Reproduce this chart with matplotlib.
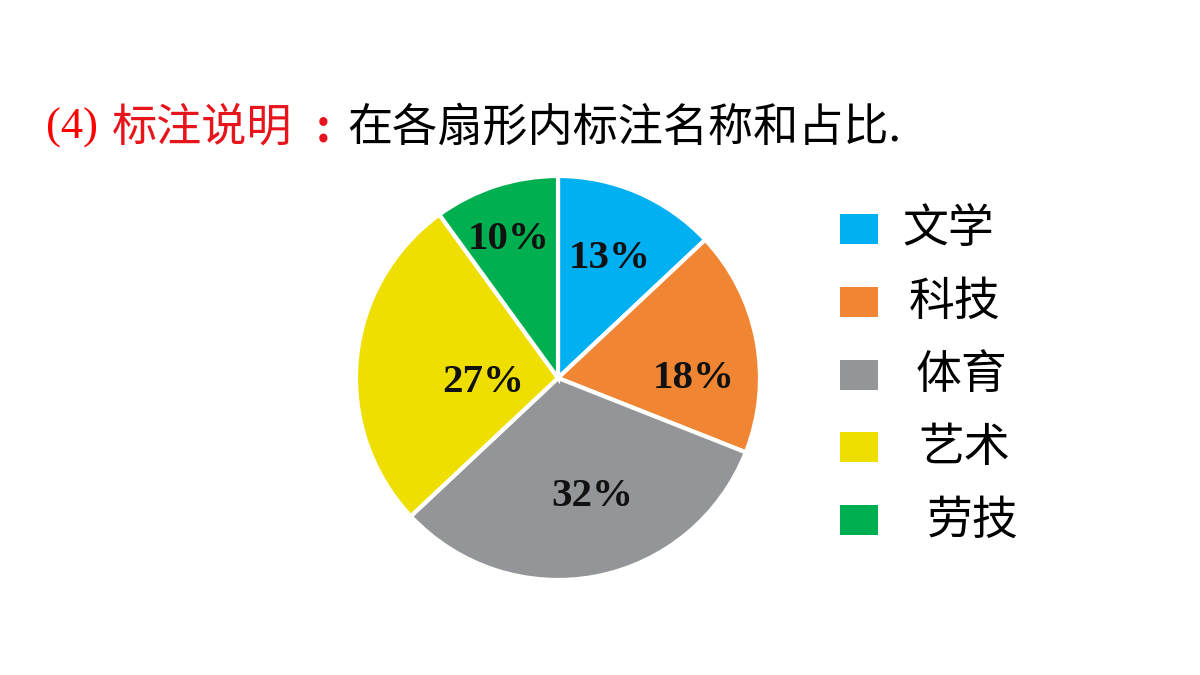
import numpy as np
import matplotlib.pyplot as plt
from matplotlib.patches import Rectangle

plt.rcParams["font.family"] = ["Noto Sans CJK SC", "DejaVu Sans"]

categories = ["文学", "科技", "体育", "艺术", "劳技"]
shares = [13, 18, 32, 27, 10]
colors = ["#00B0F0", "#F08534", "#939598", "#EEDF00", "#00B050"]
# percent label placement: radius fraction and angular nudge (deg) from wedge middle
label_r = [0.66, 0.673, 0.594, 0.371, 0.741]
label_nudge = [0.6, -9.9, 5.6, 6.2, 1.1]
legend_indent = [0.0, 0.006, 0.011, 0.014, 0.021]

fig = plt.figure(figsize=(12, 6.75), dpi=100)
fig.patch.set_facecolor("white")

# title
ty = 1 - 128 / 675
fig.text(46 / 1200, ty, "(4)", color="#FF0000", fontsize=32,
         family="Liberation Serif", va="center", ha="left")
fig.text(112 / 1200, ty, "标注说明", color="#E8141B", fontsize=32.5,
         va="center", ha="left")
fig.text(316 / 1200, ty, ":", color="#E8141B", fontsize=32.5, fontweight="bold",
         va="center", ha="left")
fig.text(347 / 1200, ty, "在各扇形内标注名称和占比.", color="black",
         fontsize=32.5, va="center", ha="left")

# pie
ax = fig.add_axes([356 / 1200, 95 / 675, 404 / 1200, 404 / 675])
wedges, _ = ax.pie(shares, colors=colors, startangle=90, counterclock=False,
                   radius=1.0, wedgeprops=dict(edgecolor="white", linewidth=3))
ax.set_xlim(-1, 1)
ax.set_ylim(-1, 1)
ax.set_aspect("equal")
ax.axis("off")

for w, s, r, d in zip(wedges, shares, label_r, label_nudge):
    mid = np.deg2rad((w.theta1 + w.theta2) / 2 + d)
    ax.text(r * np.cos(mid), r * np.sin(mid) - 0.015, f"{s}%", ha="center", va="center",
            fontsize=29.5, fontweight="bold", family="Liberation Serif", color="#111111")

# legend
for i, (name, c) in enumerate(zip(categories, colors)):
    yc = 1 - (229 + i * 72.8) / 675
    fig.patches.append(Rectangle((840 / 1200, yc - 15 / 675), 38 / 1200, 30 / 675,
                                 transform=fig.transFigure, facecolor=c,
                                 edgecolor="none"))
    fig.text(902 / 1200 + legend_indent[i], yc, name, fontsize=33,
             va="center", ha="left", color="black")

fig.savefig("out.png", dpi=100)
